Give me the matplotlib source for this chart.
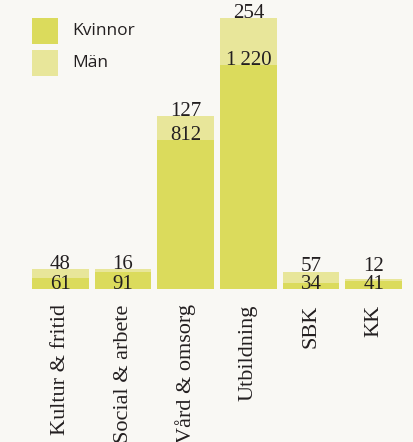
import matplotlib
matplotlib.use("Agg")
import matplotlib.pyplot as plt
from matplotlib.patches import Rectangle


CATEGORIES = ["Kultur & fritid", "Social & arbete", "Vård & omsorg", "Utbildning", "SBK", "KK"]
KVINNOR = [61, 91, 812, 1220, 34, 41]
MAN = [48, 16, 127, 254, 57, 12]
LEGEND = ["Kvinnor", "Män"]


def fmt(v):
    # swedish thousands separator (thin gap)
    return f"{v:,}".replace(",", "\u2009")


def main():
    bg = "#f9f8f4"
    c_k = "#dbdb5c"
    c_m = "#e8e69a"
    txt = "#231f20"
    serif = ["Liberation Serif", "DejaVu Serif"]
    sans = ["Open Sans", "DejaVu Sans"]

    W, H = 414, 442
    fig = plt.figure(figsize=(W / 100, H / 100), dpi=100, facecolor=bg)
    ax = fig.add_axes([32 / W, (H - 289) / H, 370 / W, 271 / H])
    ax.set_facecolor(bg)

    x = range(len(CATEGORIES))
    width = 57 / 63
    totals = [k + m for k, m in zip(KVINNOR, MAN)]
    ax.bar(x, KVINNOR, width=width, color=c_k, linewidth=0)
    ax.bar(x, MAN, bottom=KVINNOR, width=width, color=c_m, linewidth=0)
    ax.set_xlim(-width / 2, len(CATEGORIES) - 1 + width / 2)
    ax.set_ylim(0, max(totals))
    ax.axis("off")

    for i, (k, m) in enumerate(zip(KVINNOR, MAN)):
        # small segments: keep the labels stacked above the baseline
        yk = k if k > 300 else 0
        ym = max(k + m, 100)
        ax.text(i, yk, fmt(k), ha="center", va="baseline", fontsize=15,
                family=serif, color=txt)
        ax.text(i, ym, fmt(m), ha="center", va="baseline", fontsize=15,
                family=serif, color=txt)
        ax.annotate(CATEGORIES[i], (i, 0), xytext=(0, -11), textcoords="offset points",
                    rotation=90, ha="center", va="top", fontsize=16,
                    family=serif, color=txt, annotation_clip=False)

    # legend drawn by hand: square swatches at top-left
    for j, (label, col) in enumerate(zip(LEGEND, [c_k, c_m])):
        top = 18 + 32 * j
        fig.add_artist(Rectangle((32 / W, 1 - (top + 26) / H), 26 / W, 26 / H,
                                 transform=fig.transFigure, color=col, lw=0))
        fig.text(72 / W, 1 - (top + 13) / H, label, ha="left", va="center",
                 fontsize=12.5, family=sans, color=txt)

    fig.savefig("out.png", dpi=100, facecolor=bg)


if __name__ == "__main__":
    main()
